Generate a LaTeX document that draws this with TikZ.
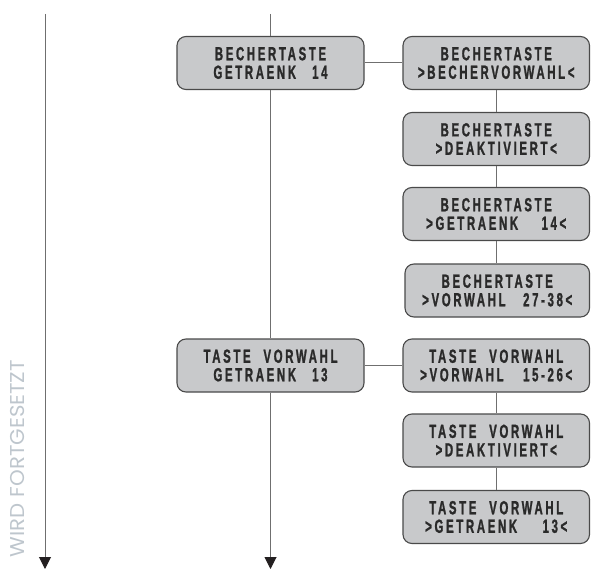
\documentclass[tikz,border=0pt]{standalone}
\usepackage{fontspec}
\usetikzlibrary{arrows.meta}
\newfontfamily\lcdfont[FakeStretch=0.6,LetterSpace=14,FakeBold=1.2]{Liberation Sans}
\newfontfamily\wfont{Poppins}
\definecolor{boxfill}{HTML}{C8C9CB}
\definecolor{boxline}{HTML}{4A4A4A}
\definecolor{txt}{HTML}{2A2A2A}
\definecolor{conn}{HTML}{6F6F6F}
\definecolor{tipc}{HTML}{231F20}
\definecolor{wcol}{HTML}{BEC6CD}
\newcommand{\lcd}{\lcdfont\bfseries\fontsize{19}{18.5}\selectfont}
\newcommand{\lcdline}[2]{\makebox[#1]{#2}}
\tikzset{
  box/.style={draw=boxline, fill=boxfill, rounded corners=9pt, line width=1.1pt,
    minimum height=53pt, align=center, inner sep=0pt, font=\lcd, text=txt},
  lbox/.style={box, minimum width=187pt},
  rbox/.style={box, minimum width=186.5pt},
  conn/.style={draw=conn, line width=1pt},
  arr/.style={conn, -{Triangle[width=12pt,length=12pt,color=tipc]}}
}
\begin{document}
\begin{tikzpicture}[x=1pt,y=-1pt]
\useasboundingbox (0,0) rectangle (591,569);
% coordinates
\coordinate (ltop) at (45,14);
\coordinate (lbot) at (45,569);
\coordinate (mtop) at (270.5,14);
\coordinate (mbot) at (270.5,569);
% left boxes
\node[lbox] (L1) at (270.5,63) {BECHERTASTE\\\lcdline{114pt}{GETRAENK\hfill 14}};
\node[lbox] (L2) at (270.5,365.5) {\lcdline{134pt}{TASTE\hfill VORWAHL}\\\lcdline{114pt}{GETRAENK\hfill 13}};
% right boxes
\node[rbox] (R1) at (496.25,63) {BECHERTASTE\\>BECHERVORWAHL<};
\node[rbox] (R2) at (496.25,139) {BECHERTASTE\\>DEAKTIVIERT<};
\node[rbox] (R3) at (496.25,214) {BECHERTASTE\\\lcdline{140pt}{>GETRAENK\hfill 14<}};
\node[box, minimum width=184.5pt] (R4) at (497.25,290.5) {BECHERTASTE\\\lcdline{150pt}{>VORWAHL\hfill 27-38<}};
\node[rbox] (R5) at (496.25,365.5) {\lcdline{134pt}{TASTE\hfill VORWAHL}\\\lcdline{152pt}{>VORWAHL\hfill 15-26<}};
\node[rbox] (R6) at (496.25,440.5) {\lcdline{134pt}{TASTE\hfill VORWAHL}\\>DEAKTIVIERT<};
\node[rbox] (R7) at (496.25,517) {\lcdline{134pt}{TASTE\hfill VORWAHL}\\\lcdline{142pt}{>GETRAENK\hfill 13<}};
% label
\node[rotate=90, text=wcol, font=\wfont\fontsize{20}{20}\selectfont, inner sep=0pt] (wf) at (17.5,458.5) {\resizebox{197pt}{\height}{WIRD FORTGESETZT}};
% connectors
\draw[arr] (ltop) -- (lbot);
\draw[conn] (mtop) -- (L1.north);
\draw[conn] (L1.south) -- (L2.north);
\draw[arr] (L2.south) -- (mbot);
\draw[conn] (L1.east) -- (R1.west);
\draw[conn] (L2.east) -- (R5.west);
\draw[conn] (R1.south) -- (R2.north);
\draw[conn] (R2.south) -- (R3.north);
\draw[conn] (R3.south) -- (R3.south |- R4.north);
\draw[conn] (R5.south) -- (R6.north);
\draw[conn] (R6.south) -- (R7.north);
\end{tikzpicture}
\end{document}
